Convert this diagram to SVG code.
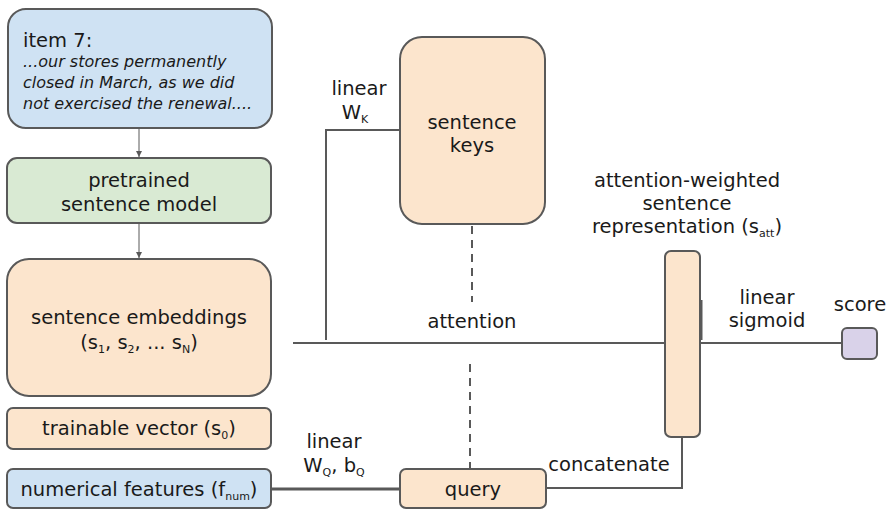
<svg xmlns="http://www.w3.org/2000/svg" width="889" height="509" viewBox="0 0 889 509">
<style>
.box{stroke:#595959;stroke-width:2}
.blue{fill:#cfe2f3}.green{fill:#d9ead3}.orange{fill:#fce5cd}.purple{fill:#d9d2e9}
text{font-family:"DejaVu Sans","Liberation Sans",sans-serif;font-size:19.5px;fill:#1a1a1a}
.c{text-anchor:middle}
.it{font-style:italic;font-size:16px}
.sub{font-size:11px}
.ln{fill:none;stroke:#595959;stroke-width:2}
.thin{stroke-width:1}
.dash{fill:none;stroke:#595959;stroke-width:2;stroke-dasharray:8 6}
</style>
<defs>
<marker id="ah" viewBox="0 0 10 10" refX="10" refY="5" markerWidth="6" markerHeight="6" orient="auto"><path d="M0,0L10,5L0,10z" fill="#595959"/></marker>
</defs>
<g id="connectors">
<line class="ln thin" x1="139" y1="128" x2="139" y2="157" marker-end="url(#ah)"/>
<line class="ln thin" x1="139" y1="223" x2="139" y2="258" marker-end="url(#ah)"/>
<polyline class="ln" points="326,340 326,130 400,130"/>
<line class="ln" x1="293" y1="343" x2="665" y2="343"/>
<line class="ln" x1="701" y1="343" x2="842" y2="343"/>
<line class="ln" x1="271" y1="489" x2="400" y2="489" style="stroke-width:3"/>
<polyline class="ln" points="546,488 682,488 682,437"/>
<line class="dash" x1="472" y1="226" x2="472" y2="302"/>
<line class="dash" x1="470" y1="364" x2="470" y2="468"/>
<line class="ln" x1="701" y1="300" x2="701" y2="340" style="stroke-width:3"/>
</g>
<g id="item7">
<rect class="box blue" x="8" y="9" width="264" height="119" rx="18"/>
<text x="23" y="47">item 7:</text>
<text class="it" x="23" y="67">...our stores permanently</text>
<text class="it" x="23" y="88">closed in March, as we did</text>
<text class="it" x="23" y="109">not exercised the renewal....</text>
</g>
<g id="pretrained">
<rect class="box green" x="7" y="158" width="264" height="65" rx="10"/>
<text class="c" x="139" y="187">pretrained</text>
<text class="c" x="139" y="211">sentence model</text>
</g>
<g id="embeddings">
<rect class="box orange" x="7" y="259" width="264" height="137" rx="22"/>
<text class="c" x="139" y="324">sentence embeddings</text>
<text class="c" x="139" y="349">(s<tspan class="sub" dy="4">1</tspan><tspan dy="-4">, s</tspan><tspan class="sub" dy="4">2</tspan><tspan dy="-4">, ... s</tspan><tspan class="sub" dy="4">N</tspan><tspan dy="-4">)</tspan></text>
</g>
<g id="trainable">
<rect class="box orange" x="7" y="408" width="264" height="41" rx="6"/>
<text class="c" x="139" y="435">trainable vector (s<tspan class="sub" dy="4">0</tspan><tspan dy="-4">)</tspan></text>
</g>
<g id="numerical">
<rect class="box blue" x="7" y="469" width="264" height="39" rx="6"/>
<text class="c" x="139" y="496">numerical features (f<tspan class="sub" dy="4">num</tspan><tspan dy="-4">)</tspan></text>
</g>
<g id="keys">
<rect class="box orange" x="400" y="37" width="145" height="187" rx="22"/>
<text class="c" x="472" y="129">sentence</text>
<text class="c" x="472" y="152">keys</text>
</g>
<g id="query">
<rect class="box orange" x="400" y="469" width="146" height="39" rx="6"/>
<text class="c" x="473" y="496">query</text>
</g>
<g id="satt">
<rect class="box orange" x="665" y="251" width="35" height="186" rx="6"/>
</g>
<g id="score">
<rect class="box purple" x="842" y="328" width="35" height="31" rx="5"/>
<text class="c" x="860" y="311">score</text>
</g>
<g id="labels">
<text class="c" x="359" y="95">linear</text>
<text class="c" x="355" y="119">W<tspan class="sub" dy="4">K</tspan></text>
<text class="c" x="472" y="328">attention</text>
<text class="c" x="687" y="187">attention-weighted</text>
<text class="c" x="687" y="210">sentence</text>
<text class="c" x="687" y="233">representation (s<tspan class="sub" dy="4">att</tspan><tspan dy="-4">)</tspan></text>
<text class="c" x="767" y="304">linear</text>
<text class="c" x="767" y="327">sigmoid</text>
<text class="c" x="334" y="448">linear</text>
<text class="c" x="334" y="472">W<tspan class="sub" dy="4">Q</tspan><tspan dy="-4">, b</tspan><tspan class="sub" dy="4">Q</tspan></text>
<text class="c" x="609" y="471">concatenate</text>
</g>
</svg>
